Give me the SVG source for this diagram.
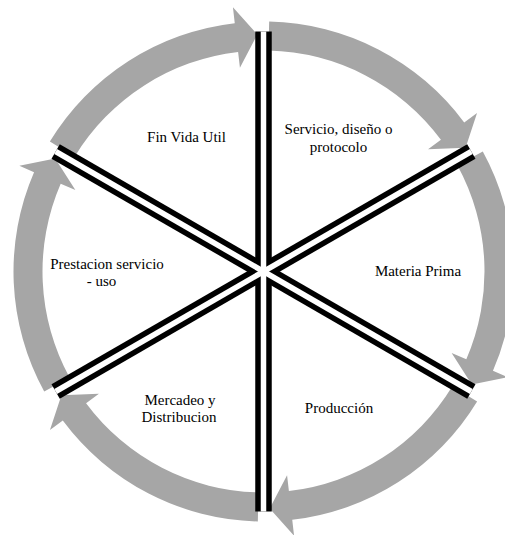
<svg xmlns="http://www.w3.org/2000/svg" xmlns:xlink="http://www.w3.org/1999/xlink" width="505" height="535" viewBox="0 0 505 535">
<style>
.arc{fill:#a6a6a6;stroke:none}
.lb{stroke:#000;stroke-width:16.5;fill:none}
.lw{stroke:#fff;stroke-width:5.5;fill:none}
text{font-family:"Liberation Serif","Times New Roman",serif;font-size:15px;fill:#000;text-anchor:middle}
</style>
<defs>
<path id="seg" class="arc" d="M269.17,21.56 A250,250 0 0 1 464.21,122.44 L477.05,112.91 L465.58,147.67 L428.08,149.27 L440.92,139.74 A221,221 0 0 0 268.51,50.56 Z"/>
<line id="ln" x1="263.5" y1="31.5" x2="263.5" y2="511.5"/>
</defs>
<rect width="505" height="535" fill="#fff"/>
<g id="ring">
<use xlink:href="#seg"/>
<use xlink:href="#seg" transform="rotate(60 263.5 271.5)"/>
<use xlink:href="#seg" transform="rotate(120 263.5 271.5)"/>
<use xlink:href="#seg" transform="rotate(180 263.5 271.5)"/>
<use xlink:href="#seg" transform="rotate(240 263.5 271.5)"/>
<use xlink:href="#seg" transform="rotate(300 263.5 271.5)"/>
</g>
<g id="connectors">
<g class="lb">
<use xlink:href="#ln"/>
<use xlink:href="#ln" transform="rotate(60 263.5 271.5)"/>
<use xlink:href="#ln" transform="rotate(120 263.5 271.5)"/>
</g>
<g class="lw">
<use xlink:href="#ln"/>
<use xlink:href="#ln" transform="rotate(60 263.5 271.5)"/>
<use xlink:href="#ln" transform="rotate(120 263.5 271.5)"/>
</g>
</g>
<g id="fin-vida-util"><text x="186.5" y="142">Fin Vida Util</text></g>
<g id="servicio"><text x="338.5" y="134">Servicio, diseño o</text><text x="338.5" y="152">protocolo</text></g>
<g id="materia-prima"><text x="418" y="276">Materia Prima</text></g>
<g id="produccion"><text x="339" y="413">Producción</text></g>
<g id="mercadeo"><text x="180" y="405">Mercadeo y</text><text x="179" y="422">Distribucion</text></g>
<g id="prestacion"><text x="107" y="269">Prestacion servicio</text><text x="101.5" y="286">- uso</text></g>
</svg>
